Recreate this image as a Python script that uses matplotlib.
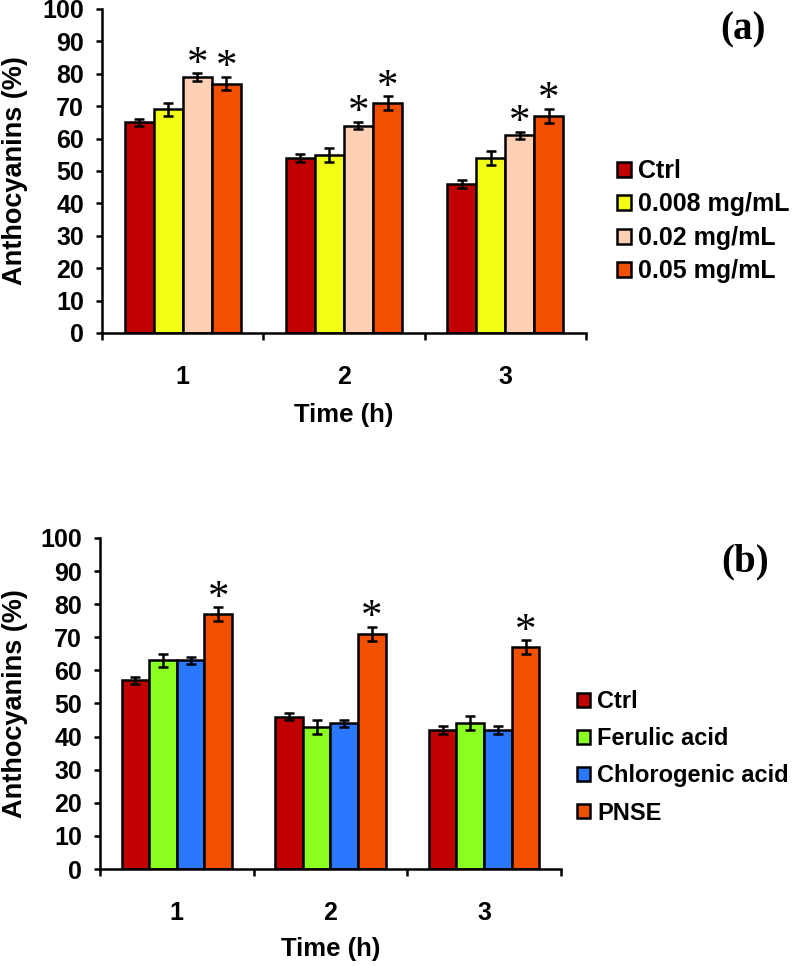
import matplotlib
matplotlib.use("Agg")
import matplotlib.pyplot as plt
import numpy as np

times = ["1", "2", "3"]

labels_a = ["Ctrl", "0.008 mg/mL", "0.02 mg/mL", "0.05 mg/mL"]
vals_a = [[65, 54, 46], [69, 55, 54], [79, 64, 61], [77, 71, 67]]
errs_a = [[1.1, 1.2, 1.1], [2.1, 2.2, 2.1], [1.1, 1.1, 1.1], [2.0, 2.1, 2.1]]
stars_a = [False, False, True, True]
colors_a = ["#C00000", "#F2FF14", "#FFD0B4", "#F05000"]

labels_b = ["Ctrl", "Ferulic acid", "Chlorogenic acid", "PNSE"]
vals_b = [[57, 46, 42], [63, 43, 44], [63, 44, 42], [77, 71, 67]]
errs_b = [[1.1, 1.1, 1.1], [2.1, 2.1, 2.1], [1.1, 1.1, 1.1], [2.1, 2.1, 2.1]]
stars_b = [False, False, False, True]
colors_b = ["#C00000", "#8CFF22", "#2A78FF", "#F05000"]

plt.rcParams['font.family'] = ['Liberation Sans', 'DejaVu Sans']
plt.rcParams['font.weight'] = 'bold'

fig = plt.figure(figsize=(7.98, 9.66), dpi=100)


def panel(rect, labels, vals, errs, stars, colors, ylab_x, leg_anchor, leg_space, leg_size):
    ax = fig.add_axes(rect)
    x = np.arange(1, len(times) + 1)
    w = 0.18
    for i, (lab, v, e, s, c) in enumerate(zip(labels, vals, errs, stars, colors)):
        xs = x + (i - 1.5) * w
        ax.bar(xs, v, w, color=c, edgecolor='black', linewidth=1.8, label=lab, zorder=2)
        ax.errorbar(xs, v, yerr=e, fmt='none', ecolor='black', elinewidth=1.8,
                    capsize=3.5, capthick=1.8, zorder=3)
        if s:
            for xi, vi, ei in zip(xs, v, e):
                ax.annotate('*', (xi, vi + ei), xytext=(0, -1), textcoords='offset points',
                            ha='center', va='baseline', fontsize=31,
                            family='Liberation Serif', fontweight='normal')
    ax.set_xlim(0.5, 3.5)
    ax.set_ylim(0, 100)
    ax.set_yticks(np.arange(0, 101, 10))
    ax.set_xticks([0.5, 1.5, 2.5, 3.5])
    ax.set_xticklabels([])
    ax.set_xticks(x, minor=True, labels=times)
    for sp in ['top', 'right']:
        ax.spines[sp].set_visible(False)
    for sp in ['left', 'bottom']:
        ax.spines[sp].set_linewidth(1.8)
    ax.tick_params(axis='y', length=4, width=1.8, labelsize=18, pad=9)
    ax.tick_params(axis='x', which='major', length=5, width=1.8)
    ax.tick_params(axis='x', which='minor', length=0, labelsize=18, pad=23)
    for t in ax.get_xticklabels(minor=True) + ax.get_yticklabels():
        t.set_fontweight('bold')
    ax.set_ylabel('Anthocyanins (%)', fontsize=19.5, fontweight='bold')
    ax.yaxis.set_label_coords(ylab_x, 0.5)
    ax.set_xlabel('Time (h)', fontsize=18.5, fontweight='bold')
    ax.legend(loc='center left', bbox_to_anchor=leg_anchor, bbox_transform=fig.transFigure,
              frameon=False, fontsize=leg_size, handlelength=0.55, handleheight=0.55,
              handletextpad=0.3, labelspacing=leg_space, borderpad=0, borderaxespad=0)
    return ax


ax_a = panel([0.1278, 0.6553, 0.6065, 0.3354], labels_a, vals_a, errs_a, stars_a, colors_a,
             -0.152, (0.773, 0.771), 0.38, 18)
ax_a.xaxis.set_label_coords(0.5, -0.215)
ax_b = panel([0.1253, 0.1004, 0.5777, 0.3427], labels_b, vals_b, errs_b, stars_b, colors_b,
             -0.156, (0.723, 0.216), 0.6, 17)
ax_b.xaxis.set_label_coords(0.5, -0.205)

fig.text(743 / 798, 1 - 30 / 966, '(a)', ha='center', va='center', fontsize=28,
         family='Liberation Serif', fontweight='bold')
fig.text(745 / 798, 1 - 562 / 966, '(b)', ha='center', va='center', fontsize=28,
         family='Liberation Serif', fontweight='bold')

fig.savefig('out.png', dpi=100)
